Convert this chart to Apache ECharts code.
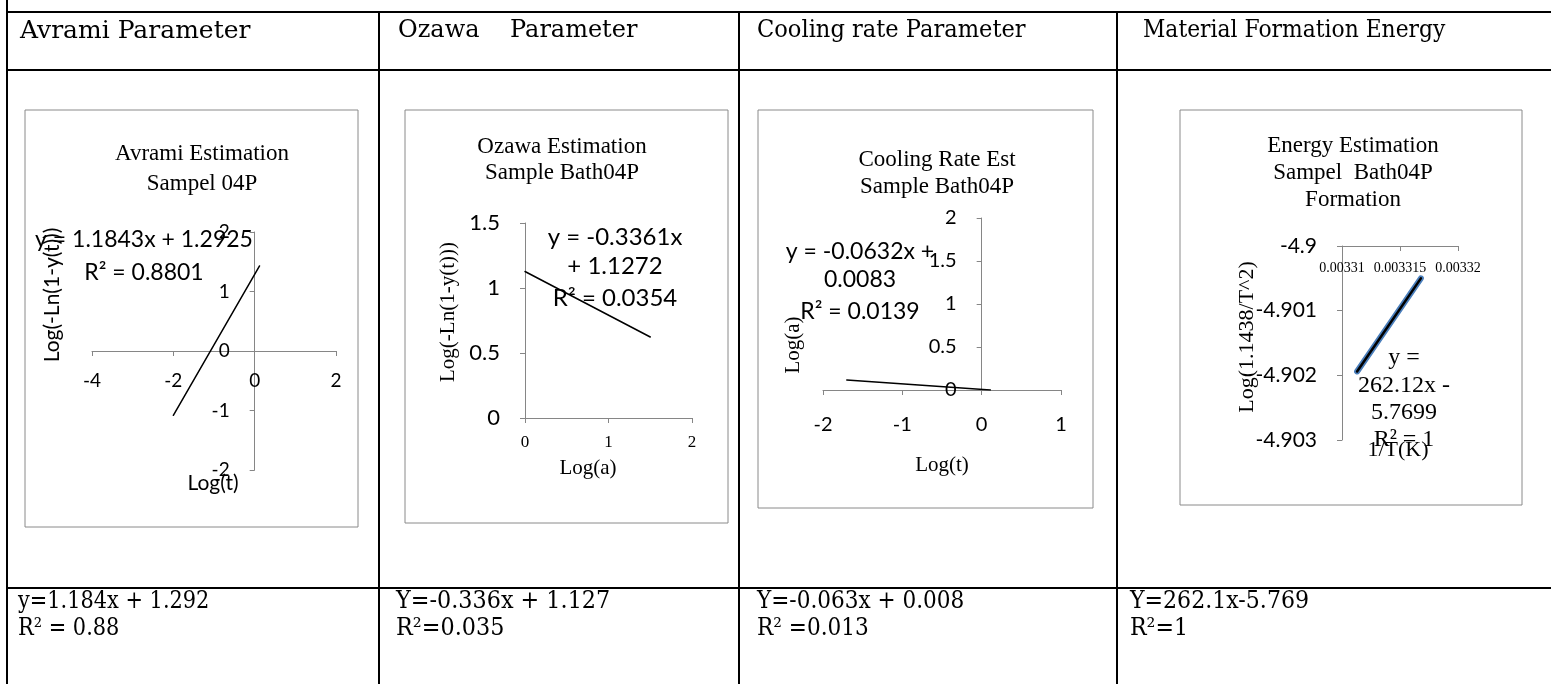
<!DOCTYPE html>
<html><head><meta charset="utf-8">
<script src="https://cdn.jsdelivr.net/npm/echarts@6/dist/echarts.min.js"></script>
<style>html,body{margin:0;padding:0;background:#fff}#c{width:1551px;height:684px}</style>
</head><body><div id="c"></div>
<script>
// ---------- data ----------
const headers = ['Avrami Parameter', 'Ozawa    Parameter', 'Cooling rate Parameter', 'Material Formation Energy'];
const resultEq = ['y=1.184x + 1.292', 'Y=-0.336x + 1.127', 'Y=-0.063x + 0.008', 'Y=262.1x-5.769'];
const resultR2 = ['R² = 0.88', 'R²=0.035', 'R² =0.013', 'R²=1'];
const chartTitles = [
  ['Avrami Estimation', 'Sampel 04P'],
  ['Ozawa Estimation', 'Sample Bath04P'],
  ['Cooling Rate Est', 'Sample Bath04P'],
  ['Energy Estimation', 'Sampel  Bath04P', 'Formation']
];
const trendLabels = [
  ['y = 1.1843x + 1.2925', 'R² = 0.8801'],
  ['y = -0.3361x', '+ 1.1272', 'R² = 0.0354'],
  ['y = -0.0632x +', '0.0083', 'R² = 0.0139'],
  ['y =', '262.12x -', '5.7699', 'R² = 1']
];
const xNames = ['Log(t)', 'Log(a)', 'Log(t)', '1/T(K)'];
const yNames = ['Log(-Ln(1-y(t)))', 'Log(-Ln(1-y(t)))', 'Log(a)', 'Log(1.1438/T^2)'];

const avramiXTicks = [-4, -2, 0, 2];
const avramiYTicks = [-2, -1, 0, 1, 2];
const ozawaXTicks = [0, 1, 2];
const ozawaYTicks = [0, 0.5, 1, 1.5];
const coolingXTicks = [-2, -1, 0, 1];
const coolingYTicks = [0, 0.5, 1, 1.5, 2];
const energyXTicks = [0.00331, 0.003315, 0.00332];
const energyYTicks = [-4.903, -4.902, -4.901, -4.9];

const avramiTrend = [[-2, -1.08], [0.12, 1.43]];
const ozawaTrend = [[0, 1.127], [1.5, 0.623]];
const coolingTrend = [[-1.7, 0.116], [0.11, 0.001]];
const energyData = [[0.0033113, -4.90194], [0.0033168, -4.90050]];
const energyTrend = [[0.0033113, -4.90194], [0.0033168, -4.90050]];

// ---------- helpers ----------
const GREY = '#868686';
const SANS = 'Lato';
const SERIF = 'Liberation Serif';
const grids = [
  { left: 92, top: 232, width: 244, height: 238 },
  { left: 525, top: 223, width: 167, height: 195 },
  { left: 823, top: 218, width: 238, height: 172 },
  { left: 1342, top: 246, width: 116, height: 194 }
];
function txt(text, x, y, size, family, opt) {
  opt = opt || {};
  const align = opt.align || 'center';
  return {
    type: 'text', x: x, y: y, rotation: opt.rot || 0, scaleX: opt.sx || 1, z: 50,
    style: {
      text: text, font: size + 'px "' + family + '"', fill: '#000',
      textAlign: align, textVerticalAlign: 'middle', align: align, verticalAlign: 'middle'
    }
  };
}
function line(x1, y1, x2, y2, w, c) {
  return { type: 'line', z: 40, shape: { x1: x1, y1: y1, x2: x2, y2: y2 }, style: { stroke: c || '#000', lineWidth: w || 2 } };
}
function rect(x, y, w, h) {
  return { type: 'rect', z: 1, shape: { x: x, y: y, width: w, height: h }, style: { fill: 'none', stroke: '#8a8a8a', lineWidth: 1 } };
}
// pixel offset that places an axis where the other axis is zero (Excel "crosses at 0")
function zeroOffset(ticks, span) {
  const mn = ticks[0], mx = ticks[ticks.length - 1];
  if (mn >= 0 || mx <= 0) return 0;
  return -span * (0 - mn) / (mx - mn);
}
function axis(gi, ticks, o) {
  o = o || {};
  return {
    type: 'value', gridIndex: gi,
    min: ticks[0], max: ticks[ticks.length - 1], interval: ticks[1] - ticks[0],
    position: o.position, offset: o.offset || 0,
    axisLine: { show: true, onZero: false, lineStyle: { color: GREY, width: 1 } },
    axisTick: { show: true, length: 5, inside: !!o.tickInside, lineStyle: { color: GREY } },
    axisLabel: {
      show: true, color: '#000', fontFamily: o.font || SANS, fontSize: o.size || 19,
      margin: o.margin || 20, inside: !!o.labelInside,
      formatter: v => String(parseFloat(Number(v).toFixed(o.dec == null ? 4 : o.dec)))
    },
    splitLine: { show: false }
  };
}

// ---------- graphics (table, boxes, texts) ----------
const g = [];
g.push(line(7, 0, 7, 684));
g.push(line(7, 12, 1551, 12));
g.push(line(7, 70, 1551, 70));
g.push(line(7, 588, 1551, 588));
[379, 739, 1117].forEach(x => g.push(line(x, 12, x, 684)));
const headerX = [20, 398, 757, 1143];
const headerSx = [1.0, 1.0, 0.94, 0.91];
headers.forEach((h, i) => g.push(txt(h, headerX[i], 31, i === 0 ? 25 : 24, 'DejaVu Serif', { align: 'left', sx: headerSx[i] })));
const resX = [18, 396, 757, 1130];
const resSx = [0.87, 0.93, 0.9, 0.92];
resultEq.forEach((t, i) => g.push(txt(t, resX[i], 602, 24, 'DejaVu Serif', { align: 'left', sx: resSx[i] })));
resultR2.forEach((t, i) => g.push(txt(t, resX[i], 629, 24, 'DejaVu Serif', { align: 'left', sx: resSx[i] })));
g.push(rect(25, 110, 333, 417));
g.push(rect(405, 110, 323, 413));
g.push(rect(758, 110, 335, 398));
g.push(rect(1180, 110, 342, 395));
const titleX = [202, 562, 937, 1353];
const titleY = [[154, 184], [147, 173], [160, 187], [146, 173, 200]];
chartTitles.forEach((lines, i) => lines.forEach((t, j) => g.push(txt(t, titleX[i], titleY[i][j], 23, SERIF))));
const eqX = [144, 615, 860, 1404];
const eqY = [[240, 273], [237, 266, 298], [252, 280, 312], [358, 386, 413, 440]];
const eqSize = [23, 24, 23, 24];
trendLabels.forEach((lines, i) => lines.forEach((t, j) =>
  g.push(txt(t, eqX[i], eqY[i][j], eqSize[i], i === 3 ? SERIF : SANS))));
g.push(txt(yNames[0], 52, 295, 21, SANS, { rot: Math.PI / 2 }));
g.push(txt(xNames[0], 213, 483, 21, SANS));
g.push(txt(yNames[1], 448, 312, 21, SERIF, { rot: Math.PI / 2 }));
g.push(txt(xNames[1], 588, 468, 21, SERIF));
g.push(txt(yNames[2], 793, 345, 21, SERIF, { rot: Math.PI / 2 }));
g.push(txt(xNames[2], 942, 465, 21, SERIF));
g.push(txt(yNames[3], 1247, 337, 22, SERIF, { rot: Math.PI / 2 }));
g.push(txt(xNames[3], 1398, 450, 22, SERIF));

const lineSeries = (xi, data, color, width, z) => ({
  type: 'line', xAxisIndex: xi, yAxisIndex: xi, data: data, symbol: 'none', silent: true, z: z || 5,
  lineStyle: { color: color, width: width, cap: 'round' }, animation: false
});

const option = {
  animation: false,
  grid: grids,
  xAxis: [
    axis(0, avramiXTicks, { size: 19, margin: 20, offset: zeroOffset(avramiYTicks, grids[0].height) }),
    axis(1, ozawaXTicks, { font: SERIF, size: 17, margin: 16 }),
    axis(2, coolingXTicks, { size: 20, margin: 25 }),
    axis(3, energyXTicks, { position: 'top', font: SERIF, size: 14, margin: 15, labelInside: true, tickInside: true, dec: 6 })
  ],
  yAxis: [
    axis(0, avramiYTicks, { size: 19, margin: 25, offset: zeroOffset(avramiXTicks, grids[0].width) }),
    axis(1, ozawaYTicks, { size: 22, margin: 25 }),
    axis(2, coolingYTicks, { size: 20, margin: 25, offset: zeroOffset(coolingXTicks, grids[2].width) }),
    axis(3, energyYTicks, { size: 21, margin: 25, dec: 3 })
  ],
  series: [
    lineSeries(0, avramiTrend, '#000', 1.5),
    lineSeries(1, ozawaTrend, '#000', 1.5),
    lineSeries(2, coolingTrend, '#000', 1.5),
    lineSeries(3, energyData, '#4a7ebb', 6, 5),
    lineSeries(3, energyTrend, '#000', 2.5, 6)
  ],
  graphic: { elements: g }
};
const chart = echarts.init(document.getElementById('c'), null, { renderer: 'canvas' });
chart.setOption(option);
</script>
</body></html>
